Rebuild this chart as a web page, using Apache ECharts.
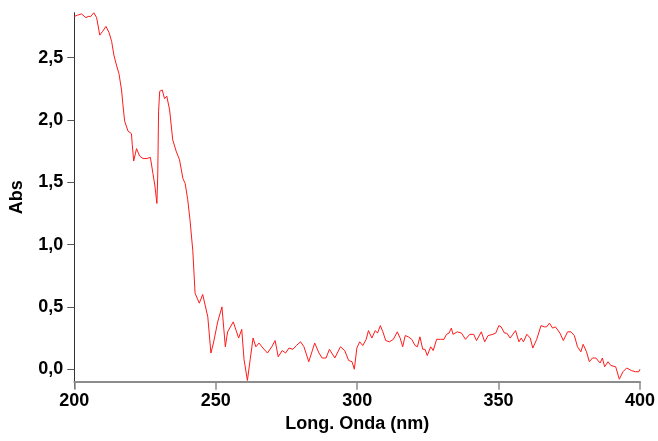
<!DOCTYPE html>
<html>
<head>
<meta charset="utf-8">
<script src="https://cdn.jsdelivr.net/npm/echarts@6/dist/echarts.min.js"></script>
<style>
html,body{margin:0;padding:0;background:#fff;}
#chart{width:658px;height:441px;}
</style>
</head>
<body>
<div id="chart"></div>
<script>
const wavelength = [200.0,201.1,202.6,203.2,204.1,204.9,205.8,206.9,207.9,209.0,210.0,211.2,212.3,213.2,214.0,214.9,215.8,216.7,217.2,217.8,219.0,220.2,220.5,221.0,222.0,223.1,224.3,225.7,226.9,227.8,228.5,229.2,229.5,229.8,230.2,231.1,231.9,232.7,233.7,234.8,236.0,237.2,238.4,239.2,240.1,240.9,241.9,242.7,244.2,245.4,246.0,247.2,248.3,249.2,250.7,252.2,253.4,254.2,256.2,258.1,259.2,260.0,261.2,262.2,263.2,264.2,265.3,266.7,268.3,269.8,271.0,272.1,273.5,274.7,275.9,277.3,278.5,280.0,281.2,282.9,285.0,286.5,287.6,289.0,290.2,292.1,294.1,295.6,297.0,298.2,299.0,299.9,300.9,302.0,303.2,304.0,305.2,306.4,307.2,308.2,309.1,310.1,311.4,312.8,314.2,315.2,316.1,317.0,318.1,319.3,320.5,321.3,322.2,323.2,324.0,324.8,326.0,326.9,328.1,329.5,330.7,331.6,332.5,333.3,333.9,335.4,336.9,338.3,339.8,341.2,342.2,343.9,345.1,346.3,348.0,349.0,350.1,350.9,352.1,352.9,354.1,356.0,357.2,358.0,358.8,360.0,361.2,362.1,363.5,365.0,366.2,367.0,368.0,369.1,370.1,371.7,372.9,374.4,375.6,376.8,377.9,379.1,379.9,381.1,382.1,383.2,384.4,385.0,385.9,386.7,387.5,388.7,389.7,391.4,392.7,394.0,395.3,396.9,398.4,399.6,400.0];
const absorbance = [2.83,2.84,2.85,2.84,2.82,2.83,2.83,2.86,2.82,2.68,2.71,2.75,2.70,2.63,2.52,2.44,2.37,2.24,2.12,1.99,1.91,1.89,1.80,1.67,1.77,1.71,1.69,1.69,1.70,1.57,1.47,1.33,1.55,2.07,2.23,2.24,2.17,2.19,2.08,1.84,1.75,1.68,1.53,1.49,1.36,1.20,0.95,0.61,0.53,0.60,0.60,0.42,0.13,0.21,0.38,0.50,0.18,0.30,0.38,0.25,0.32,0.08,-0.09,0.08,0.25,0.18,0.21,0.17,0.13,0.18,0.23,0.10,0.15,0.13,0.17,0.16,0.19,0.22,0.18,0.06,0.21,0.13,0.09,0.09,0.16,0.09,0.18,0.15,0.07,0.06,0.00,0.17,0.22,0.19,0.24,0.31,0.25,0.31,0.29,0.35,0.30,0.23,0.22,0.24,0.30,0.25,0.18,0.27,0.26,0.24,0.19,0.18,0.26,0.16,0.16,0.11,0.18,0.15,0.24,0.24,0.24,0.28,0.29,0.33,0.28,0.30,0.29,0.24,0.28,0.28,0.23,0.30,0.22,0.27,0.28,0.29,0.35,0.34,0.29,0.29,0.25,0.31,0.22,0.25,0.22,0.28,0.25,0.17,0.24,0.35,0.34,0.34,0.37,0.33,0.34,0.29,0.23,0.30,0.30,0.27,0.18,0.14,0.20,0.14,0.06,0.09,0.09,0.09,0.05,0.09,0.02,0.06,0.03,0.02,-0.08,-0.02,0.01,-0.01,-0.02,-0.02,0.00];
const yTicks = [0, 0.5, 1.0, 1.5, 2.0, 2.5];
const xTitle = 'Long. Onda (nm)';
const yTitle = 'Abs';

const seriesData = wavelength.map((w, i) => [w, absorbance[i]]);
const font = 'Liberation Sans, Arial, sans-serif';

const chart = echarts.init(document.getElementById('chart'), null, {renderer: 'canvas'});
chart.setOption({
  animation: false,
  backgroundColor: '#ffffff',
  grid: {left: 74.3, right: 15.3, top: 12.7, bottom: 59.3, containLabel: false},
  xAxis: {
    type: 'value',
    min: 200, max: 400, interval: 50,
    name: xTitle,
    nameLocation: 'middle',
    nameGap: 32,
    nameTextStyle: {fontFamily: font, fontWeight: 'bold', fontSize: 18, color: '#000'},
    axisLine: {onZero: false, lineStyle: {color: '#8c8c8c', width: 2}},
    axisTick: {show: true, inside: false, length: 8, lineStyle: {color: '#8c8c8c', width: 1.5}},
    axisLabel: {fontFamily: font, fontWeight: 'bold', fontSize: 18, color: '#000', margin: 10},
    splitLine: {show: false}
  },
  yAxis: {
    type: 'value',
    min: -0.1, max: 2.86,
    name: yTitle,
    nameLocation: 'middle',
    nameGap: 48,
    nameRotate: 90,
    nameTextStyle: {fontFamily: font, fontWeight: 'bold', fontSize: 18, color: '#000'},
    axisLine: {show: true, onZero: false, lineStyle: {color: '#333', width: 1}},
    axisTick: {show: true, inside: false, length: 7, customValues: yTicks, lineStyle: {color: '#555', width: 1}},
    axisLabel: {
      fontFamily: font, fontWeight: 'bold', fontSize: 18, color: '#000', margin: 11,
      customValues: yTicks,
      formatter: v => v.toFixed(1).replace('.', ',')
    },
    splitLine: {show: false}
  },
  series: [{
    type: 'line',
    data: seriesData,
    showSymbol: false,
    symbol: 'none',
    smooth: false,
    lineStyle: {color: '#ff1a1a', width: 1},
    clip: true
  }]
});

// small extension of the y-axis line below the x-axis, as in the reference
const p = chart.convertToPixel({gridIndex: 0}, [200, -0.1]);
chart.setOption({
  graphic: [{
    type: 'line',
    shape: {x1: Math.round(p[0]) + 0.5, y1: p[1], x2: Math.round(p[0]) + 0.5, y2: p[1] + 7},
    style: {stroke: '#333', lineWidth: 1},
    silent: true
  }]
});
</script>
</body>
</html>
